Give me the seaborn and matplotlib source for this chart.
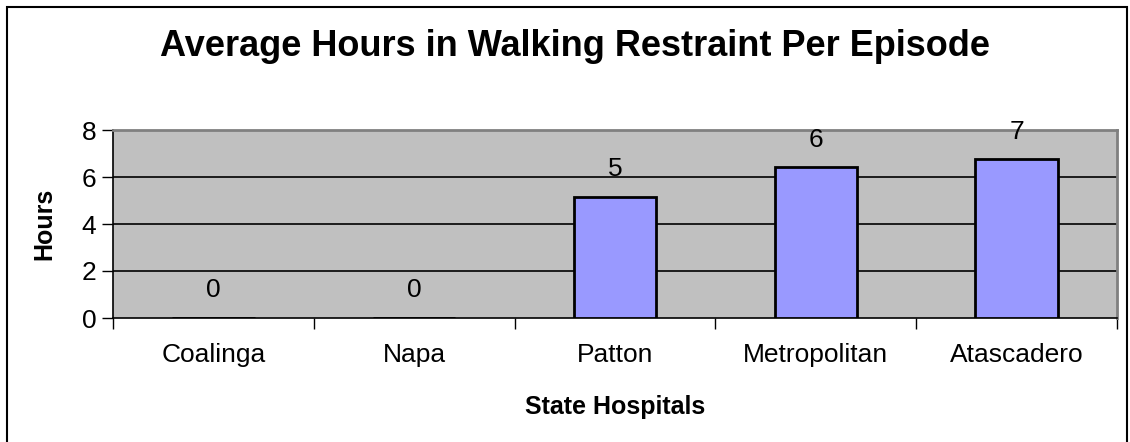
import matplotlib
matplotlib.use("Agg")
import matplotlib.pyplot as plt
import seaborn as sns
import pandas as pd
import numpy as np
from matplotlib.patches import Rectangle

hospitals = ["Coalinga", "Napa", "Patton", "Metropolitan", "Atascadero"]
hours = [0.0, 0.0, 5.16, 6.41, 6.75]
yticks = [0, 2, 4, 6, 8]
title = "Average Hours in Walking Restraint Per Episode"
xlabel = "State Hospitals"
ylabel = "Hours"

sns.set_theme(style="white")
plt.rcParams["font.family"] = ["Liberation Sans", "DejaVu Sans"]
plt.rcParams["text.color"] = "black"
plt.rcParams["axes.labelcolor"] = "black"
plt.rcParams["xtick.color"] = "black"
plt.rcParams["ytick.color"] = "black"

df = pd.DataFrame({"Hospital": hospitals, "Hours": hours})

W, H = 1130, 442
fig = plt.figure(figsize=(W / 100, H / 100), dpi=100)
ax = fig.add_axes([113 / W, 1 - 318 / H, (1117 - 113) / W, (318 - 130) / H])
ax.set_facecolor("#C0C0C0")

sns.barplot(data=df, x="Hospital", y="Hours", ax=ax, color="#9999FF",
            width=0.41, edgecolor="black", linewidth=2, saturation=1, zorder=3)

ax.set_ylim(0, 8)
ax.set_xlim(-0.5, len(hospitals) - 0.5)
ax.set_yticks(yticks)
ax.set_yticklabels([str(t) for t in yticks], fontsize=19)
for t in yticks[1:-1]:
    ax.axhline(t, color="black", lw=1.2, zorder=1)

# Excel-style category ticks at boundaries, labels centred
ax.set_xticks(np.arange(-0.5, len(hospitals), 1.0))
ax.set_xticklabels([])
ax.set_xticks(np.arange(len(hospitals)), minor=True)
ax.set_xticklabels(hospitals, minor=True, fontsize=19)
ax.tick_params(axis="x", which="major", length=8, width=1, color="black", direction="out", bottom=True)
ax.tick_params(axis="x", which="minor", length=0, pad=18)
ax.tick_params(axis="y", which="major", length=8, width=1, color="black", direction="out", left=True, pad=4)

for side in ["top", "right"]:
    ax.spines[side].set_color("#808080")
    ax.spines[side].set_linewidth(2)
ax.spines["left"].set_color("black")
ax.spines["left"].set_linewidth(1.2)
ax.spines["bottom"].set_color("black")
ax.spines["bottom"].set_linewidth(1.2)

for i, v in enumerate(hours):
    ax.annotate(f"{v:.0f}", (i, v), xytext=(0, 20), textcoords="offset points",
                ha="center", va="center", fontsize=19, color="black", zorder=5,
                annotation_clip=False)

ax.set_xlabel(xlabel, fontsize=18, fontweight="bold", labelpad=20)
ax.set_ylabel(ylabel, fontsize=18, fontweight="bold", labelpad=18)

fig.text(575 / W, 1 - 47 / H, title, ha="center", va="center",
         fontsize=26, fontweight="bold")

# chart border
fig.patches.append(Rectangle((7 / W, -0.05), (1127 - 7) / W, 1 - 7 / H + 0.05,
                             transform=fig.transFigure, fill=False,
                             edgecolor="black", lw=1.5))

fig.savefig("out.png", dpi=100)
